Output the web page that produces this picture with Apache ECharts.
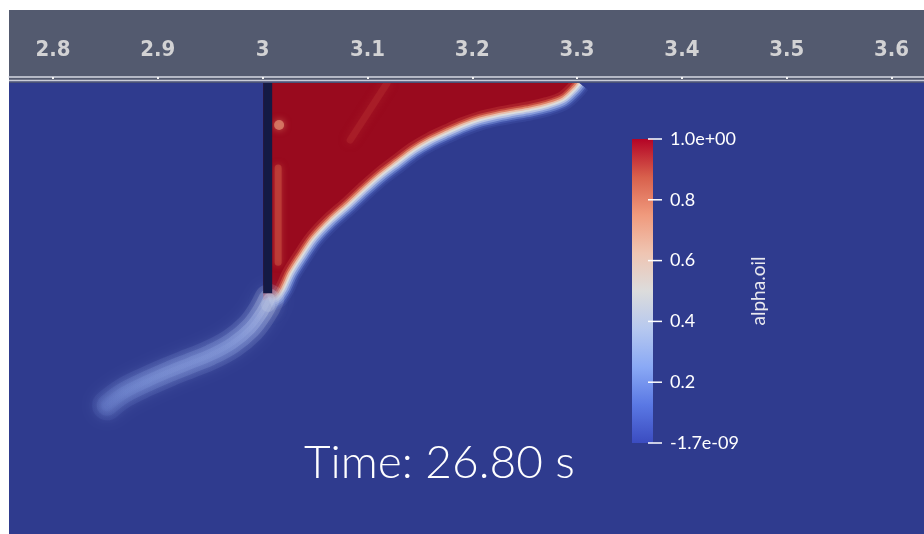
<!DOCTYPE html>
<html>
<head>
<meta charset="utf-8">
<script src="https://cdn.jsdelivr.net/npm/echarts@6/dist/echarts.min.js"></script>
<style>
  html, body { margin: 0; padding: 0; background: #ffffff; }
  #main { width: 924px; height: 534px; }
</style>
</head>
<body>
<div id="main"></div>
<script>
// ---- axis (m) ----
const xTicks = [2.8, 2.9, 3.0, 3.1, 3.2, 3.3, 3.4, 3.5, 3.6];
const xRange = [2.758, 3.631];
const yRange = [-0.43, 0.0057];

// ---- oil/water interface (alpha.oil = 0.5), free surface down to the baffle tip ----
const interfaceX = [3.3020, 3.2982, 3.2867, 3.2715, 3.2552, 3.2390, 3.2238, 3.2075, 3.1913,
                    3.1760, 3.1598, 3.1436, 3.1283, 3.1121, 3.0959, 3.0806, 3.0644, 3.0482,
                    3.0358, 3.0262, 3.0196, 3.0138, 3.0062];
const interfaceY = [0.0000, -0.0048, -0.0153, -0.0210, -0.0248, -0.0277, -0.0305, -0.0344, -0.0401,
                    -0.0468, -0.0544, -0.0639, -0.0754, -0.0878, -0.1021, -0.1164, -0.1307, -0.1479,
                    -0.1660, -0.1813, -0.1956, -0.2042, -0.2071];

// ---- baffle plate ----
const baffleX = [3.0005, 3.0091];
const baffleY = [-0.2004, 0.0];

// ---- oil wisp shed from the baffle tip ----
const wispX = [3.0062, 2.9995, 2.9881, 2.9709, 2.9499, 2.9308, 2.9117, 2.8898, 2.8669, 2.8516];
const wispY = [-0.2060, -0.2185, -0.2338, -0.2481, -0.2595, -0.2672, -0.2748, -0.2844, -0.2958, -0.3073];
const wispAlpha = [0.46, 0.39, 0.34, 0.31, 0.30, 0.29, 0.28, 0.26, 0.23, 0.18];

// ---- diluted streaks inside the oil layer ----
const streakA_X = [3.1188, 3.0835];
const streakA_Y = [0.0000, -0.0544];
const streakB_X = [3.0148, 3.0148];
const streakB_Y = [-0.0811, -0.1708];
const spotX = [3.0157];
const spotY = [-0.0401];

// ---- colour legend ----
const alphaRange = [-1.7e-9, 1.0];
const legendTicks = [0, 0.2, 0.4, 0.6, 0.8, 1.0];
const timeValue = 26.80;

// Cool-to-warm map used by the legend bar
const legendStops = [
  [0.0, '#3b4cc0'], [0.125, '#5a78e4'], [0.25, '#8aa9f5'], [0.375, '#b6c8ef'],
  [0.5, '#dcdcdc'], [0.625, '#efc5b2'], [0.75, '#f09a7d'], [0.875, '#d8604c'], [1.0, '#b40426']
];
// Same map as it appears shaded in the 3D view
const fieldStops = [
  [0.0, '#2f3b8e'], [0.12, '#4456ad'], [0.25, '#7086cf'], [0.38, '#a5b5e6'],
  [0.5, '#dcdcdc'], [0.62, '#ebb9a2'], [0.75, '#d8694f'], [0.88, '#b32a2e'], [1.0, '#990a1e']
];

function hexToRgb(h) {
  return [parseInt(h.slice(1, 3), 16), parseInt(h.slice(3, 5), 16), parseInt(h.slice(5, 7), 16)];
}
function fieldColor(a) {
  a = Math.max(0, Math.min(1, a));
  for (let i = 1; i < fieldStops.length; i++) {
    if (a <= fieldStops[i][0]) {
      const [a0, c0] = fieldStops[i - 1], [a1, c1] = fieldStops[i];
      const t = (a - a0) / (a1 - a0);
      const p = hexToRgb(c0), q = hexToRgb(c1);
      return 'rgb(' + p.map((v, k) => Math.round(v + (q[k] - v) * t)).join(',') + ')';
    }
  }
  return fieldStops[fieldStops.length - 1][1];
}
function fmtExp(v) {
  return v.toExponential(1).replace(/e([+-])(\d)$/, 'e$10$2');
}
function toPx(api, xs, ys) {
  return xs.map((x, i) => api.coord([x, ys[i]]));
}
// shift each vertex d px along the normal (positive = water side)
function offsetLine(pts, d) {
  return pts.map((p, i) => {
    const a = pts[Math.max(i - 1, 0)], b = pts[Math.min(i + 1, pts.length - 1)];
    const dx = b[0] - a[0], dy = b[1] - a[1];
    const L = Math.hypot(dx, dy) || 1;
    return [p[0] + d * dy / L, p[1] - d * dx / L];
  });
}

// alpha profile across the interface: [offset px, alpha]
const bandProfile = [
  [10.0, 0.04], [8.0, 0.10], [6.2, 0.20], [4.4, 0.31], [2.5, 0.42], [0.6, 0.50],
  [-1.2, 0.60], [-3.0, 0.71], [-4.8, 0.82], [-6.6, 0.92]
];

const chart = echarts.init(document.getElementById('main'), null, { renderer: 'canvas' });

const option = {
  backgroundColor: '#ffffff',
  animation: false,
  title: {
    text: 'Time: ' + timeValue.toFixed(2) + ' s',
    left: 304,
    top: 440,
    padding: 0,
    textStyle: { color: '#ffffff', fontFamily: 'Lato', fontWeight: 300, fontSize: 46 }
  },
  grid: [
    { left: 9, right: 0, top: 77, bottom: 0, show: true, backgroundColor: '#2f3b8e', borderWidth: 0, outerBoundsMode: 'none' },
    { left: 632, top: 139, width: 21, height: 304, show: false, outerBoundsMode: 'none' }
  ],
  xAxis: [
    {
      gridIndex: 0, type: 'value', position: 'top', min: xRange[0], max: xRange[1], z: 60,
      axisLine: { show: true, onZero: false, lineStyle: { color: '#d6d9e4', width: 1.5 } },
      axisTick: { show: true, customValues: xTicks, inside: true, length: 2, lineStyle: { color: '#f4f4f4', width: 2 } },
      axisLabel: {
        customValues: xTicks, margin: 16, color: '#d2d2d4', fontSize: 22, fontWeight: 'bold',
        fontFamily: "'DejaVu Sans Condensed', 'Liberation Sans', sans-serif",
        formatter: v => String(+(+v).toFixed(1))
      },
      splitLine: { show: false }
    },
    { gridIndex: 1, type: 'value', min: 0, max: 1, show: false }
  ],
  yAxis: [
    { gridIndex: 0, type: 'value', min: yRange[0], max: yRange[1], show: false },
    {
      gridIndex: 1, type: 'value', min: 0, max: 1, interval: 0.2, position: 'right', z: 10,
      axisLine: { show: false },
      axisTick: { show: false },
      axisLabel: {
        margin: 17, color: '#ffffff', fontSize: 18, fontFamily: 'Lato',
        formatter: v => v >= 1 ? fmtExp(alphaRange[1]) : (v <= 0 ? fmtExp(alphaRange[0]) : v.toFixed(1))
      },
      splitLine: { show: false },
      name: 'alpha.oil', nameLocation: 'middle', nameRotate: 90, nameGap: 96,
      nameTextStyle: { color: '#e8e8ee', fontSize: 19, fontFamily: 'Lato' }
    }
  ],
  graphic: [
    { type: 'rect', shape: { x: 9, y: 10, width: 915, height: 73 }, style: { fill: '#535a6f' }, z: 50 },
    { type: 'rect', shape: { x: 9, y: 81, width: 915, height: 2 }, style: { fill: '#4a5277' }, z: 51 },
    { type: 'line', shape: { x1: 9, y1: 80.5, x2: 924, y2: 80.5 }, style: { stroke: '#c9ccd8', lineWidth: 1.5 }, z: 55 }
  ],
  series: [
    {
      // oil layer trapped behind the baffle, with its diffuse interface
      type: 'custom', name: 'alpha.oil', xAxisIndex: 0, yAxisIndex: 0, clip: true, z: 2,
      data: interfaceX.map((x, i) => [x, interfaceY[i]]),
      renderItem(params, api) {
        if (params.dataIndex !== 0) return;
        const iface = toPx(api, interfaceX, interfaceY);
        const topY = api.coord([0, 0])[1];
        const poly = [[api.coord([baffleX[0], 0])[0], topY], [iface[0][0] + 3, topY]]
          .concat(iface)
          .concat([api.coord([baffleX[0], interfaceY[interfaceY.length - 1]])]);
        const children = [
          { type: 'polygon', shape: { points: poly, smooth: 0 }, style: { fill: fieldColor(1), stroke: null } }
        ];
        // diluted streaks inside the oil
        const sA = toPx(api, streakA_X, streakA_Y);
        const sB = toPx(api, streakB_X, streakB_Y);
        const sp = api.coord([spotX[0], spotY[0]]);
        children.push(
          { type: 'polyline', shape: { points: sA },
            style: { fill: null, stroke: fieldColor(0.86), lineWidth: 7, opacity: 0.35, lineCap: 'round', shadowBlur: 8, shadowColor: fieldColor(0.86) } },
          { type: 'polyline', shape: { points: sB },
            style: { fill: null, stroke: fieldColor(0.8), lineWidth: 7, opacity: 0.55, lineCap: 'round', shadowBlur: 6, shadowColor: fieldColor(0.8) } },
          { type: 'circle', shape: { cx: sp[0], cy: sp[1], r: 5 },
            style: { fill: fieldColor(0.7), opacity: 0.75, shadowBlur: 7, shadowColor: fieldColor(0.72) } }
        );
        // smooth transition across the interface
        bandProfile.forEach(([d, a]) => {
          children.push({
            type: 'polyline',
            shape: { points: offsetLine(iface, d), smooth: 0.3 },
            style: { fill: null, stroke: fieldColor(a), lineWidth: 2.8, lineJoin: 'round' }
          });
        });
        return { type: 'group', children };
      }
    },
    {
      // oil wisp below the baffle
      type: 'custom', name: 'wisp', xAxisIndex: 0, yAxisIndex: 0, clip: true, z: 3,
      data: wispX.map((x, i) => [x, wispY[i], wispAlpha[i]]),
      renderItem(params, api) {
        if (params.dataIndex !== 0) return;
        const pts = toPx(api, wispX, wispY);
        const first = pts[0], last = pts[pts.length - 1];
        const stops = wispAlpha.map((a, i) => ({ offset: i / (wispAlpha.length - 1), color: fieldColor(a) }));
        const grad = () => ({ type: 'linear', x: first[0], y: first[1], x2: last[0], y2: last[1], global: true, colorStops: stops });
        const layers = [[30, 0.16, 14], [21, 0.28, 9], [12, 0.42, 6], [5, 0.3, 4]];
        const children = layers.map(([w, o, b]) => ({
          type: 'polyline',
          shape: { points: pts, smooth: 0.4 },
          style: { fill: null, stroke: grad(), lineWidth: w, opacity: o, lineCap: 'round', lineJoin: 'round',
                   shadowBlur: b, shadowColor: fieldColor(0.28) }
        }));
        // soft bright patch where the wisp leaves the baffle tip
        children.push({
          type: 'circle', shape: { cx: first[0] - 1, cy: first[1] + 6, r: 7 },
          style: { fill: fieldColor(0.42), opacity: 0.35, shadowBlur: 14, shadowColor: fieldColor(0.4) }
        });
        return { type: 'group', children };
      }
    },
    {
      // baffle plate
      type: 'custom', name: 'baffle', xAxisIndex: 0, yAxisIndex: 0, clip: true, z: 4,
      data: [[baffleX[0], baffleX[1], baffleY[0], baffleY[1]]],
      renderItem(params, api) {
        const p0 = api.coord([api.value(0), api.value(3)]);
        const p1 = api.coord([api.value(1), api.value(2)]);
        return { type: 'rect', shape: { x: p0[0], y: p0[1], width: p1[0] - p0[0], height: p1[1] - p0[1] },
                 style: { fill: '#141a44' } };
      }
    },
    {
      // legend bar with its tick marks
      type: 'custom', name: 'legend', xAxisIndex: 1, yAxisIndex: 1, z: 5,
      data: [[0, 0, 1, 1]],
      renderItem(params, api) {
        const p0 = api.coord([api.value(0), api.value(1)]);
        const p1 = api.coord([api.value(2), api.value(3)]);
        const children = [{
          type: 'rect',
          shape: { x: p0[0], y: p1[1], width: p1[0] - p0[0], height: p0[1] - p1[1] },
          style: { fill: { type: 'linear', x: 0, y: 1, x2: 0, y2: 0,
                           colorStops: legendStops.map(([o, c]) => ({ offset: o, color: c })) } }
        }];
        legendTicks.forEach(v => {
          const p = api.coord([1, v]);
          children.push({ type: 'line', shape: { x1: p[0] - 5, y1: p[1], x2: p[0] + 9, y2: p[1] },
                          style: { stroke: '#ffffff', lineWidth: 1.5 } });
        });
        return { type: 'group', children };
      }
    }
  ]
};

chart.setOption(option);
</script>
</body>
</html>
